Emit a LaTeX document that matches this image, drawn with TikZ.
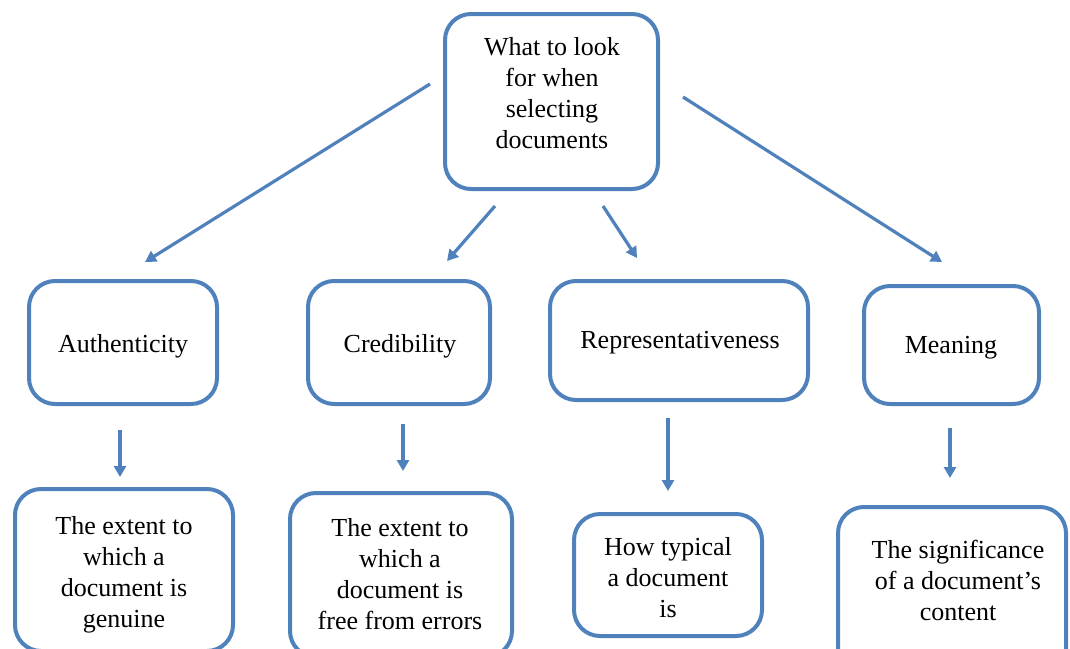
\documentclass[tikz,border=0pt]{standalone}
\usepackage{fontspec}
\setmainfont{Liberation Serif}
\usetikzlibrary{arrows.meta}
\definecolor{linkblue}{RGB}{79,129,189}
\tikzset{
  box/.style={draw=linkblue, line width=4pt, rounded corners=26pt, fill=white, inner sep=0pt},
  txt/.style={align=center, font=\fontsize{26}{31}\selectfont, inner sep=0pt},
  link/.style={draw=linkblue, line width=3.2pt, -{Triangle[length=11pt,width=12pt]}}
}
\begin{document}
\begin{tikzpicture}[x=1pt,y=-1pt]
  \useasboundingbox (0,0) rectangle (1070,648);
  \clip (0,0) rectangle (1070,648);

  % boxes
  \node[box, minimum width=213pt, minimum height=175pt] (top)  at (551.5,101.5) {};
  \node[box, minimum width=188pt, minimum height=123pt] (auth) at (123,342.5) {};
  \node[box, minimum width=182pt, minimum height=123pt] (cred) at (399,342.5) {};
  \node[box, minimum width=258pt, minimum height=119pt] (rep)  at (679,340.5) {};
  \node[box, minimum width=175pt, minimum height=118pt] (mean) at (951.5,345) {};
  \node[box, minimum width=218pt, minimum height=162pt] (gen)  at (124,570) {};
  \node[box, minimum width=222pt, minimum height=164pt] (err)  at (401,575) {};
  \node[box, minimum width=188pt, minimum height=122pt] (typ)  at (668,575) {};
  \node[box, minimum width=228pt, minimum height=180pt] (sig)  at (952,597) {};

  % texts
  \node[txt] (topT)  at (552,93)  {What to look\\for when\\selecting\\documents};
  \node[txt] (authT) at (123,346) {Authenticity};
  \node[txt] (credT) at (400,346) {Credibility};
  \node[txt] (repT)  at (680,343) {Representativeness};
  \node[txt] (meanT) at (951,348) {Meaning};
  \node[txt] (genT)  at (124,575) {The extent to\\which a\\document is\\genuine};
  \node[txt] (errT)  at (400,574) {The extent to\\which a\\document is\\free from errors};
  \node[txt] (typT)  at (668,578) {How typical\\a document\\is};
  \node[txt] (sigT)  at (958,580) {The significance\\of a document’s\\content};

  % connector end points
  \coordinate (a1s) at (430,84);   \coordinate (a1e) at (145,262);
  \coordinate (a2s) at (495,206);  \coordinate (a2e) at (447,261);
  \coordinate (a3s) at (603,206);  \coordinate (a3e) at (637,258);
  \coordinate (a4s) at (683,97);   \coordinate (a4e) at (942,262);
  \coordinate (v1s) at (120,430);  \coordinate (v1e) at (120,477);
  \coordinate (v2s) at (403,424);  \coordinate (v2e) at (403,471);
  \coordinate (v3s) at (668,418);  \coordinate (v3e) at (668,491);
  \coordinate (v4s) at (950,428);  \coordinate (v4e) at (950,478);

  \draw[link] (a1s) -- (a1e);
  \draw[link] (a2s) -- (a2e);
  \draw[link] (a3s) -- (a3e);
  \draw[link] (a4s) -- (a4e);
  \draw[link] (v1s) -- (v1e);
  \draw[link] (v2s) -- (v2e);
  \draw[link] (v3s) -- (v3e);
  \draw[link] (v4s) -- (v4e);
\end{tikzpicture}
\end{document}
